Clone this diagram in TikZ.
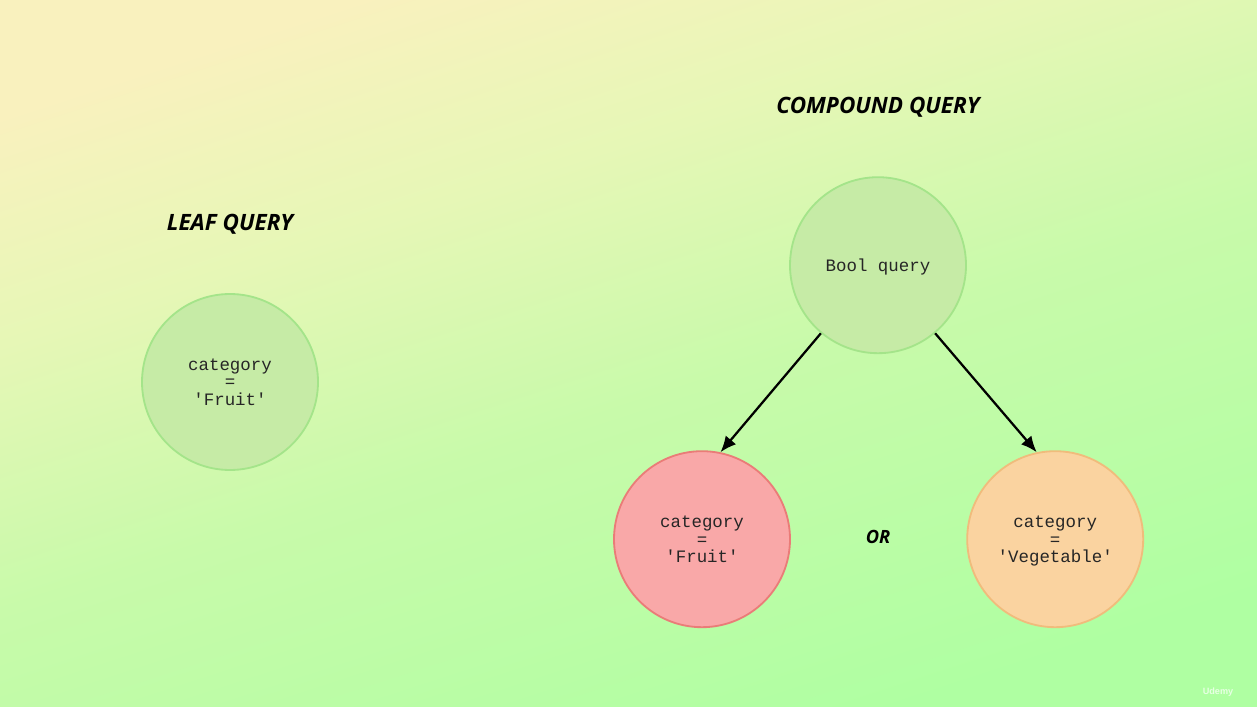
\documentclass[tikz,border=0pt]{standalone}
\usepackage{fontspec}
\setmainfont{Liberation Sans}
\setmonofont{Liberation Mono}
\newfontfamily\headfont{Open Sans}
\usetikzlibrary{arrows.meta, positioning}
\definecolor{bgyellow}{HTML}{F9F1BE}
\definecolor{bgpale}{HTML}{E6F7B6}
\definecolor{bgmid}{HTML}{C8FAAA}
\definecolor{bggreen}{HTML}{AFFFA2}
\definecolor{leafgreen}{HTML}{C6EBA6}
\definecolor{leafedge}{HTML}{A4E48A}
\definecolor{fruitred}{HTML}{F9A8A8}
\definecolor{fruitedge}{HTML}{EA7C78}
\definecolor{vegorange}{HTML}{FAD3A0}
\definecolor{vegedge}{HTML}{F0BC7C}
\pgfdeclareverticalshading{bgfade}{100bp}{color(0bp)=(bggreen); color(25bp)=(bggreen);
  color(47bp)=(bgmid); color(62bp)=(bgpale); color(75bp)=(bgyellow); color(100bp)=(bgyellow)}
\tikzset{
  leaf/.style   ={circle, draw=leafedge, fill=leafgreen, line width=1.3pt, minimum size=4.4cm,
                  align=center, inner sep=0pt, text depth=0pt, text=black!85, font=\fontsize{12.4}{12.4}\ttfamily},
  fruit/.style  ={leaf, draw=fruitedge, fill=fruitred},
  veg/.style    ={leaf, draw=vegedge, fill=vegorange},
  headx/.style  ={font=\headfont\fontsize{16}{18}\selectfont\bfseries\itshape, text=black},
  flow/.style   ={-{Latex[length=4mm, width=3.4mm]}, draw=black, line width=1.6pt},
}

\begin{document}
\begin{tikzpicture}
  \useasboundingbox (0,0) rectangle (31.425,-17.675);
  \shade[shading=bgfade, shading angle=18] (0,0) rectangle (31.425,-17.675);
  \node[headx] (leafhead) at (5.75,-5.6)  {LEAF QUERY};
  \node[headx] (comphead) at (21.95,-2.67)  {COMPOUND QUERY};
  \node[leaf]  (single)   at (5.75,-9.55)  {category\\=\\'Fruit'};
  \node[leaf]  (bool)     at (21.95,-6.63) {Bool query};
  \node[fruit] (left)     at (17.55,-13.48) {category\\=\\'Fruit'};
  \node[veg]   (right)    at (26.38,-13.48) {category\\=\\'Vegetable'};
  \node[headx, font=\headfont\fontsize{13}{15}\selectfont\bfseries\itshape] (or) at (21.95,-13.43) {OR};
  \node[font=\fontsize{6.5}{8}\selectfont\bfseries, text=white!70!bggreen] (mark) at (30.45,-17.3) {Udemy};
  \draw[flow] (bool.230) -- (left.78);
  \draw[flow] (bool.310) -- (right.102);
\end{tikzpicture}
\end{document}
